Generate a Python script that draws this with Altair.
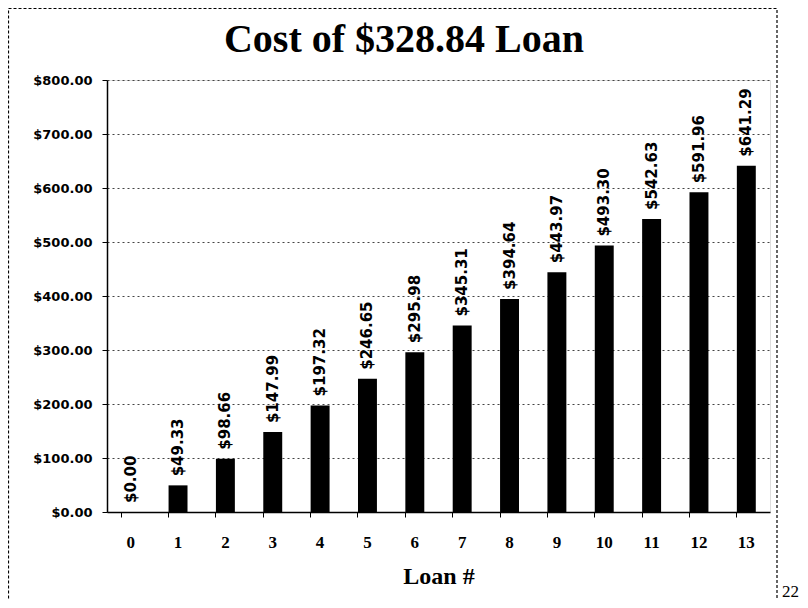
import altair as alt
import pandas as pd

loans = list(range(14))
costs = [0.00, 49.33, 98.66, 147.99, 197.32, 246.65, 295.98, 345.31, 394.64,
         443.97, 493.30, 542.63, 591.96, 641.29]
y_ticks = [0, 100, 200, 300, 400, 500, 600, 700, 800]
title_text = "Cost of $328.84 Loan"

df = pd.DataFrame({"loan": loans, "cost": costs})
one = pd.DataFrame({"a": [0]})

W, H = 663, 432

x_scale = alt.Scale(paddingInner=0.6, paddingOuter=0.3)
y_scale = alt.Scale(domain=[0, 800], nice=False)

bars = alt.Chart(df).mark_bar(color="black").encode(
    x=alt.X("loan:O", scale=x_scale,
            axis=alt.Axis(title="Loan #", labelAngle=0, ticks=False,
                          labelFont="Liberation Serif", labelFontSize=17,
                          labelFontWeight="bold", labelColor="black",
                          labelPadding=22, domainColor="black", domainWidth=1.5,
                          titleFont="Liberation Serif", titleFontSize=24,
                          titleFontWeight="bold", titleColor="black",
                          titlePadding=14, orient="bottom")),
    y=alt.Y("cost:Q", scale=y_scale,
            axis=alt.Axis(title=None, values=y_ticks, format="$.2f",
                          labelFont="DejaVu Sans", labelFontSize=13,
                          labelFontWeight="bold", labelColor="black",
                          labelPadding=10, tickSize=5, tickColor="black",
                          domainColor="black", domainWidth=1.5,
                          grid=True, gridDash=[2, 3], gridColor="#444",
                          gridWidth=1)),
)

labels = alt.Chart(df).mark_text(
    angle=270, align="left", baseline="middle", dx=9,
    font="DejaVu Sans", fontSize=15, fontWeight="bold", color="black"
).encode(
    x=alt.X("loan:O", scale=x_scale,
            axis=alt.Axis(labels=False, ticks=True, bandPosition=0, tickSize=5,
                          tickColor="black", domain=False, title=None,
                          orient="bottom", grid=False)),
    y=alt.Y("cost:Q", scale=y_scale),
    text=alt.Text("cost:Q", format="$.2f"),
)

border = alt.Chart(one).mark_rect(
    fillOpacity=0, stroke="black", strokeDash=[3, 2], strokeWidth=1.2
).encode(
    x=alt.value(-98.5), x2=alt.value(670), y=alt.value(-71.5), y2=alt.value(640)
)

title = alt.Chart(one).mark_text(
    text=title_text, align="center", baseline="middle", font="Liberation Serif",
    fontSize=40, fontWeight="bold", color="black"
).encode(x=alt.value(297), y=alt.value(-40))

page_num = alt.Chart(one).mark_text(
    text="22", align="left", baseline="bottom", font="Liberation Serif",
    fontSize=17, color="black"
).encode(x=alt.value(675), y=alt.value(521))

chart = alt.layer(bars, labels, border, title, page_num).resolve_axis(
    x="independent"
).properties(
    width=W, height=H,
    autosize=alt.AutoSizeParams(type="none"),
    padding={"left": 99, "top": 72, "right": 30, "bottom": 88},
).configure_view(stroke=None).configure(background="white")

chart.save("out.html", embed_options={"renderer": "svg", "actions": False})
